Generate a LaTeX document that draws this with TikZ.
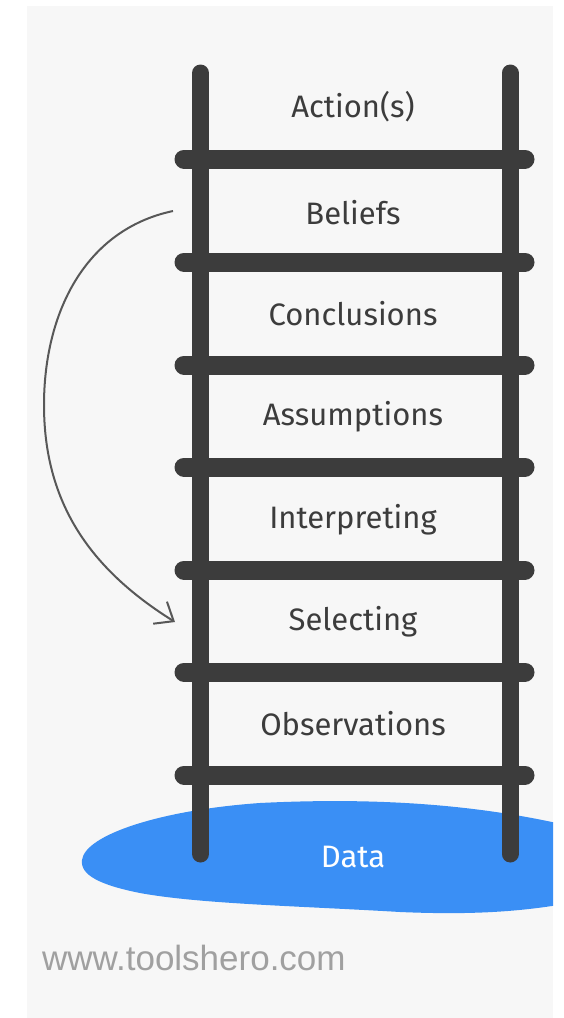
\documentclass[tikz,border=0pt]{standalone}
\usepackage{fontspec}
\setmainfont{Fira Sans}
\newfontfamily\urlfont{Liberation Sans}
\usetikzlibrary{arrows.meta}
\definecolor{bggray}{HTML}{F7F7F7}
\definecolor{rail}{HTML}{3C3C3C}
\definecolor{blobblue}{HTML}{3A8FF5}
\definecolor{arrowgray}{HTML}{585858}
\definecolor{urlgray}{HTML}{A0A0A0}
\tikzset{
  railline/.style={draw=rail, line width=17pt, line cap=round},
  rungline/.style={draw=rail, line width=19pt, line cap=round},
  steplabel/.style={font=\fontsize{31}{36}\selectfont, text=rail, anchor=center, inner sep=0pt},
  feedback/.style={draw=arrowgray, line width=2pt, -{Straight Barb[length=16pt, width=26pt, line width=2pt]}},
}
\begin{document}
\begin{tikzpicture}[x=1pt, y=-1pt]
\useasboundingbox (0,0) rectangle (564,1018);
\fill[white] (0,0) rectangle (564,1018);
\fill[bggray] (27,6) rectangle (553,1018);
% blob
\begin{scope}
\clip (27,6) rectangle (553,1018);
\fill[blobblue] (82,860) .. controls (85,835) and (160,810) .. (260,803)
  .. controls (380,797) and (480,805) .. (570,826)
  -- (570,903) .. controls (520,912) and (470,915) .. (400,912)
  .. controls (300,906) and (200,904) .. (140,893)
  .. controls (100,885) and (80,875) .. (82,860) -- cycle;
\end{scope}
% rails
\coordinate (LT) at (200.5,73);
\coordinate (LB) at (200.5,854);
\coordinate (RT) at (510,73);
\coordinate (RB) at (510,854);
\draw[railline] (LT) -- (LB);
\draw[railline] (RT) -- (RB);
% rungs
\foreach \y/\n in {159/1,262/2,365/3,467/4,570/5,672/6,775/7}{
  \coordinate (rl\n) at (184,\y);
  \coordinate (rr\n) at (525,\y);
  \draw[rungline] (rl\n) -- (rr\n);
}
% labels
\node[steplabel] (act) at (353,107) {Action(s)};
\node[steplabel] (bel) at (353,213) {Beliefs};
\node[steplabel] (con) at (353,314) {Conclusions};
\node[steplabel] (ass) at (353,417) {Assumptions};
\node[steplabel] (int) at (353,520) {Interpreting};
\node[steplabel] (sel) at (353,622) {Selecting};
\node[steplabel] (obs) at (353,724) {Observations};
\node[steplabel, text=white] (dat) at (353,857) {Data};
% feedback arrow
\coordinate (fbstart) at (173,211);
\coordinate (fbend) at (175,622);
\draw[feedback] (fbstart) to[out=192, in=90] (44,405) to[out=-90, in=148] (fbend);
% url
\node[font=\urlfont\fontsize{35}{40}\selectfont, text=urlgray, anchor=west, inner sep=0pt] (url) at (42,958) {www.toolshero.com};
\end{tikzpicture}
\end{document}
